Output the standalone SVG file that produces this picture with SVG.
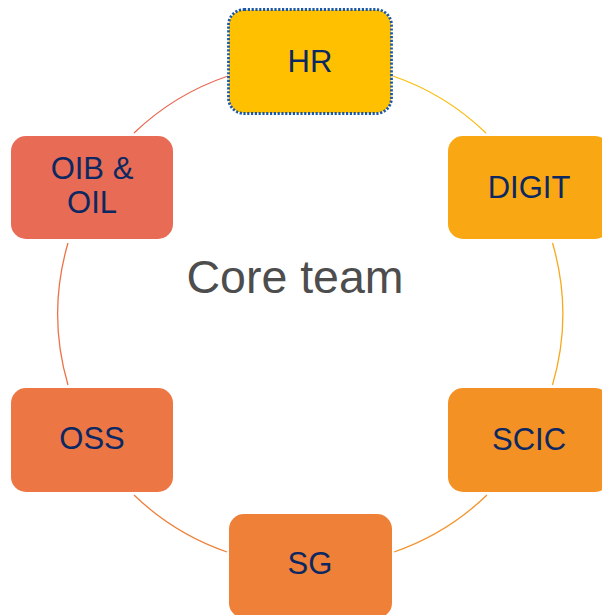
<svg xmlns="http://www.w3.org/2000/svg" width="602" height="615" viewBox="0 0 602 615">
  <style>
    .box { stroke: none; }
    .lbl { font-family: "Liberation Sans", Arial, sans-serif; font-size: 31px; fill: #0b2862; text-anchor: middle; }
    .arc { fill: none; stroke-width: 1.3; }
    .title { font-family: "Liberation Sans", Arial, sans-serif; font-size: 46.5px; fill: #4d4d4d; text-anchor: middle; }
  </style>
  <rect width="602" height="615" fill="#ffffff"/>

  <!-- ring segments between the units -->
  <g id="connectors">
    <path class="arc" stroke="#fbbd0c" d="M393,76 A252.5,252.5 0 0 1 486,133"/>
    <path class="arc" stroke="#f8a81c" d="M552.5,243 A252.5,252.5 0 0 1 552.5,385"/>
    <path class="arc" stroke="#f3932a" d="M487,495 A252.5,252.5 0 0 1 394,552"/>
    <path class="arc" stroke="#ef803a" d="M227,552 A252.5,252.5 0 0 1 134,495"/>
    <path class="arc" stroke="#ec7346" d="M68,385 A252.5,252.5 0 0 1 68,243"/>
    <path class="arc" stroke="#e86b52" d="M134,133 A252.5,252.5 0 0 1 228,76"/>
  </g>

  <text class="title" x="295" y="293">Core team</text>

  <g id="hr">
    <rect class="box" x="229" y="10" width="162" height="103" rx="15" fill="#ffc000"/>
    <rect x="228.5" y="9.5" width="163" height="104" rx="15.5" fill="none" stroke="#1a58a6" stroke-width="2.8" stroke-dasharray="2.2 1.6"/>
    <text class="lbl" x="310" y="72">HR</text>
  </g>
  <g id="digit">
    <rect class="box" x="448" y="136" width="162" height="103" rx="15" fill="#f9a813"/>
    <text class="lbl" x="529" y="198">DIGIT</text>
  </g>
  <g id="scic">
    <rect class="box" x="448" y="388" width="162" height="104" rx="15" fill="#f39124"/>
    <text class="lbl" x="529" y="450">SCIC</text>
  </g>
  <g id="sg">
    <rect class="box" x="229" y="514" width="163" height="104" rx="15" fill="#ef8038"/>
    <text class="lbl" x="310" y="574">SG</text>
  </g>
  <g id="oss">
    <rect class="box" x="11" y="388" width="162" height="104" rx="15" fill="#ed7645"/>
    <text class="lbl" x="92" y="449">OSS</text>
  </g>
  <g id="oib-oil">
    <rect class="box" x="11" y="136" width="162" height="103" rx="15" fill="#e86c55"/>
    <text class="lbl" x="92" y="179">OIB &amp;</text>
    <text class="lbl" x="92" y="213">OIL</text>
  </g>
</svg>
